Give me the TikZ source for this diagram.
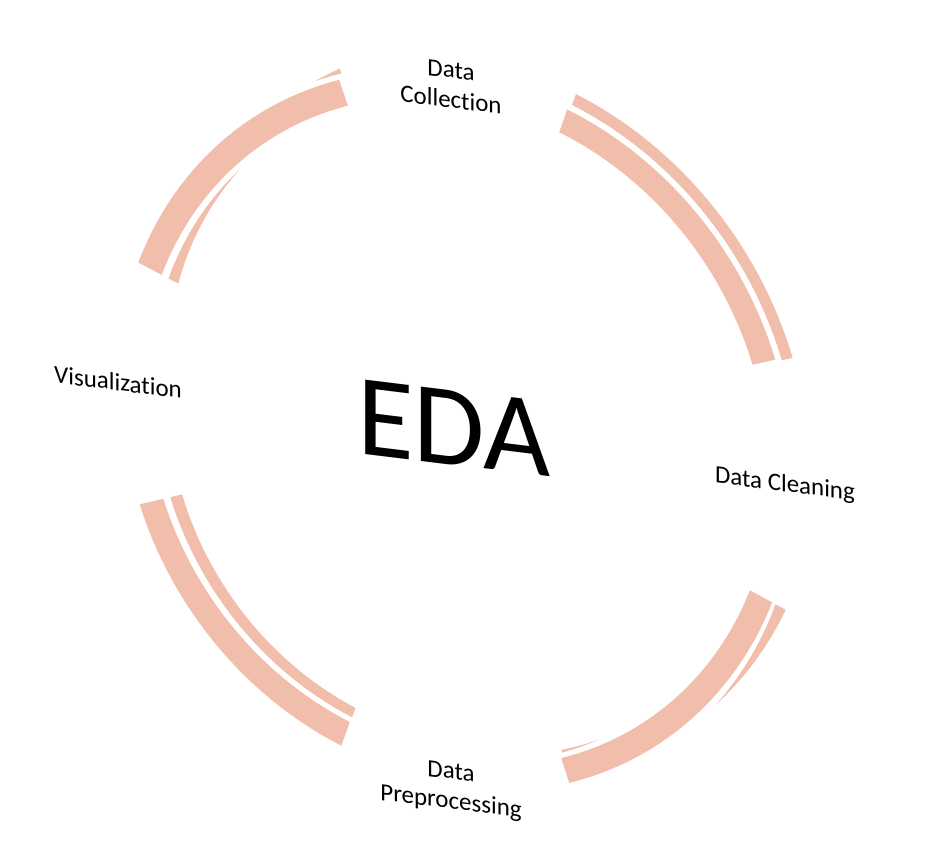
\documentclass[tikz,border=0pt]{standalone}
\usepackage{fontspec}
\setmainfont{Carlito}[Ligatures=NoCommon]
\usepackage{tikz}

\definecolor{arcpink}{RGB}{242,190,172}

% ring piece: start, end, inner radius, outer radius
\newcommand{\ringpiece}[4]{%
  \fill[arcpink] (#1:#3) arc[start angle=#1, end angle=#2, radius=#3]
    -- (#2:#4) arc[start angle=#2, end angle=#1, radius=#4] -- cycle;}
% tapered piece: start, end, inner from/to, outer from/to
\newcommand{\taperpiece}[6]{%
  \fill[arcpink] plot[domain=#1:#2, samples=30] (\x:{#3+(#4-(#3))*(\x-(#1))/((#2)-(#1))})
    -- plot[domain=#2:#1, samples=30] (\x:{#5+(#6-(#5))*(\x-(#1))/((#2)-(#1))}) -- cycle;}

\begin{document}
\begin{tikzpicture}[
    x=0.02cm, y=0.02cm,
    step label/.style={align=center, yslant=-0.123, font=\fontsize{14.2}{17}\selectfont},
    title/.style={yslant=-0.123, font=\fontsize{66}{72}\selectfont}
]
\useasboundingbox (-455,-438) rectangle (471,430);

% Arcs
\begin{scope}[rotate=122, xscale=1.1446]
  \ringpiece{-15.6}{33.6}{301}{325}
  \ringpiece{-107.3}{-55.0}{300.5}{323.5}
  \ringpiece{164.0}{212.9}{304}{327}
  \ringpiece{73.5}{124.5}{296}{320}
  % thin bands
  \ringpiece{-107.6}{-55.5}{329.5}{340.5}
  \taperpiece{73.5}{124.6}{277}{281.5}{289}{291}
  \taperpiece{8.7}{33.6}{296}{284}{296}{294}
  \taperpiece{-16.3}{-11.6}{330}{330}{334.5}{330}
  \taperpiece{193}{212.9}{333}{330.5}{333}{341}
  \taperpiece{164.5}{172}{297}{299}{299.5}{299}
\end{scope}

% Labels
\node[title] (eda) at (-1,2) {EDA};
\node[step label] (collect) at (-4,345) {Data\\Collection};
\node[step label] (clean) at (330,-55) {Data Cleaning};
\node[step label] (prep) at (-4,-358) {Data\\Preprocessing};
\node[step label] (vis) at (-337,48) {Visualization};

\end{tikzpicture}
\end{document}
